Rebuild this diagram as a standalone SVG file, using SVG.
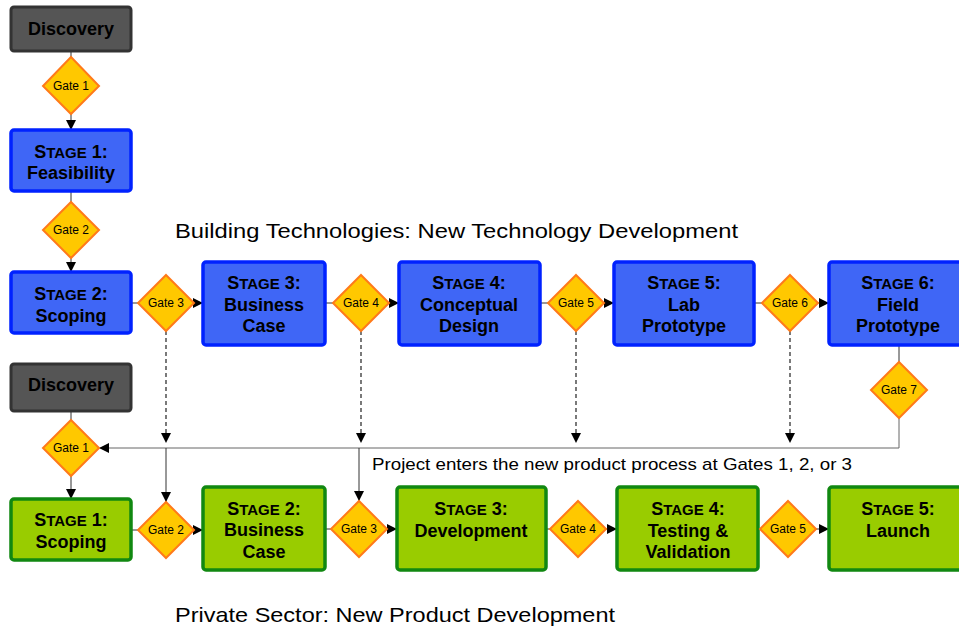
<svg xmlns="http://www.w3.org/2000/svg" width="959" height="632" viewBox="0 0 959 632">
<defs>
<style>
.gray{fill:#555555;stroke:#333333;stroke-width:3}
.blue{fill:#3F66F6;stroke:#0022FF;stroke-width:3.5}
.green{fill:#99CC00;stroke:#118811;stroke-width:3.5}
.gate{fill:#FFC800;stroke:#FF7A1A;stroke-width:2}
.t{font-family:"Liberation Sans",Arial,sans-serif;font-weight:bold;font-size:18px;fill:#000;text-anchor:middle}
.sm{font-size:15px}
.g{font-family:"Liberation Sans",Arial,sans-serif;font-size:12px;fill:#000;text-anchor:middle}
.lbl{font-family:"Liberation Sans",Arial,sans-serif;fill:#000}
.c{fill:none;stroke:#333;stroke-width:1}
.d{fill:none;stroke:#222;stroke-width:1.2;stroke-dasharray:4,3}
</style>
<marker id="ah" viewBox="0 0 10 10" refX="10" refY="5" markerWidth="10" markerHeight="10" markerUnits="userSpaceOnUse" orient="auto">
<path d="M0,0 L10,5 L0,10 z" fill="#000"/>
</marker>
</defs>
<rect width="959" height="632" fill="#fff"/>

<g id="connectors">
<path class="c" d="M71,51 V57"/>
<path class="c" d="M71,114 V130" marker-end="url(#ah)"/>
<path class="c" d="M71,191 V202"/>
<path class="c" d="M71,258 V272" marker-end="url(#ah)"/>
<path class="c" d="M131,303 H138"/>
<path class="c" d="M194,303 H203" marker-end="url(#ah)"/>
<path class="c" d="M325,303 H333"/>
<path class="c" d="M389,303 H399" marker-end="url(#ah)"/>
<path class="c" d="M540,303 H548"/>
<path class="c" d="M604,303 H614" marker-end="url(#ah)"/>
<path class="c" d="M754,303 H762"/>
<path class="c" d="M818,303 H829" marker-end="url(#ah)"/>
<path class="c" d="M899,346 V362"/>
<path class="c" style="stroke:#666" d="M899,418 V448 H99" marker-end="url(#ah)"/>
<path class="d" d="M166,331 V443" marker-end="url(#ah)"/>
<path class="d" d="M361,331 V443" marker-end="url(#ah)"/>
<path class="d" d="M576,331 V443" marker-end="url(#ah)"/>
<path class="d" d="M790,331 V443" marker-end="url(#ah)"/>
<path class="c" d="M166,448 V502" marker-end="url(#ah)"/>
<path class="c" d="M359,448 V501" marker-end="url(#ah)"/>
<path class="c" d="M71,411 V420"/>
<path class="c" d="M71,476 V499" marker-end="url(#ah)"/>
<path class="c" d="M131,530 H138"/>
<path class="c" d="M194,530 H203" marker-end="url(#ah)"/>
<path class="c" d="M325,529 H331"/>
<path class="c" d="M387,529 H397" marker-end="url(#ah)"/>
<path class="c" d="M546,529 H550"/>
<path class="c" d="M606,529 H617" marker-end="url(#ah)"/>
<path class="c" d="M758,529 H760"/>
<path class="c" d="M816,529 H829" marker-end="url(#ah)"/>
</g>

<g id="discovery-top">
<rect class="gray" x="11" y="7" width="120" height="44" rx="3"/>
<text class="t" x="71" y="35">Discovery</text>
</g>
<g id="top-gate1">
<polygon class="gate" points="71,57 99,86 71,114 43,86"/>
<text class="g" x="71" y="90">Gate 1</text>
</g>
<g id="top-stage1">
<rect class="blue" x="11" y="130" width="120" height="61" rx="3"/>
<text class="t" x="71" y="158">S<tspan class="sm">TAGE</tspan> 1:</text>
<text class="t" x="71" y="179">Feasibility</text>
</g>
<g id="top-gate2">
<polygon class="gate" points="71,202 99,230 71,258 43,230"/>
<text class="g" x="71" y="234">Gate 2</text>
</g>
<g id="top-stage2">
<rect class="blue" x="11" y="272" width="120" height="61" rx="3"/>
<text class="t" x="71" y="300">S<tspan class="sm">TAGE</tspan> 2:</text>
<text class="t" x="71" y="322">Scoping</text>
</g>
<g id="top-gate3">
<polygon class="gate" points="166,275 194,303 166,331 138,303"/>
<text class="g" x="166" y="307">Gate 3</text>
</g>
<g id="top-stage3">
<rect class="blue" x="203" y="262" width="122" height="83" rx="3"/>
<text class="t" x="264" y="289">S<tspan class="sm">TAGE</tspan> 3:</text>
<text class="t" x="264" y="311">Business</text>
<text class="t" x="264" y="332">Case</text>
</g>
<g id="top-gate4">
<polygon class="gate" points="361,275 389,303 361,331 333,303"/>
<text class="g" x="361" y="307">Gate 4</text>
</g>
<g id="top-stage4">
<rect class="blue" x="399" y="262" width="141" height="83" rx="3"/>
<text class="t" x="469" y="289">S<tspan class="sm">TAGE</tspan> 4:</text>
<text class="t" x="469" y="311">Conceptual</text>
<text class="t" x="469" y="332">Design</text>
</g>
<g id="top-gate5">
<polygon class="gate" points="576,275 604,303 576,331 548,303"/>
<text class="g" x="576" y="307">Gate 5</text>
</g>
<g id="top-stage5">
<rect class="blue" x="614" y="262" width="140" height="83" rx="3"/>
<text class="t" x="684" y="289">S<tspan class="sm">TAGE</tspan> 5:</text>
<text class="t" x="684" y="311">Lab</text>
<text class="t" x="684" y="332">Prototype</text>
</g>
<g id="top-gate6">
<polygon class="gate" points="790,275 818,303 790,331 762,303"/>
<text class="g" x="790" y="307">Gate 6</text>
</g>
<g id="top-stage6">
<rect class="blue" x="829" y="262" width="140" height="83" rx="3"/>
<text class="t" x="898" y="289">S<tspan class="sm">TAGE</tspan> 6:</text>
<text class="t" x="898" y="311">Field</text>
<text class="t" x="898" y="332">Prototype</text>
</g>
<g id="top-gate7">
<polygon class="gate" points="899,362 927,390 899,418 871,390"/>
<text class="g" x="899" y="394">Gate 7</text>
</g>

<g id="discovery-bottom">
<rect class="gray" x="11" y="364" width="120" height="47" rx="3"/>
<text class="t" x="71" y="391">Discovery</text>
</g>
<g id="bottom-gate1">
<polygon class="gate" points="71,420 99,448 71,476 43,448"/>
<text class="g" x="71" y="452">Gate 1</text>
</g>
<g id="bottom-stage1">
<rect class="green" x="11" y="499" width="120" height="61" rx="3"/>
<text class="t" x="71" y="526">S<tspan class="sm">TAGE</tspan> 1:</text>
<text class="t" x="71" y="548">Scoping</text>
</g>
<g id="bottom-gate2">
<polygon class="gate" points="166,502 194,530 166,558 138,530"/>
<text class="g" x="166" y="534">Gate 2</text>
</g>
<g id="bottom-stage2">
<rect class="green" x="203" y="487" width="122" height="83" rx="3"/>
<text class="t" x="264" y="515">S<tspan class="sm">TAGE</tspan> 2:</text>
<text class="t" x="264" y="536">Business</text>
<text class="t" x="264" y="558">Case</text>
</g>
<g id="bottom-gate3">
<polygon class="gate" points="359,501 387,529 359,557 331,529"/>
<text class="g" x="359" y="533">Gate 3</text>
</g>
<g id="bottom-stage3">
<rect class="green" x="397" y="487" width="149" height="83" rx="3"/>
<text class="t" x="471" y="515">S<tspan class="sm">TAGE</tspan> 3:</text>
<text class="t" x="471" y="537">Development</text>
</g>
<g id="bottom-gate4">
<polygon class="gate" points="578,501 606,529 578,557 550,529"/>
<text class="g" x="578" y="533">Gate 4</text>
</g>
<g id="bottom-stage4">
<rect class="green" x="617" y="487" width="141" height="83" rx="3"/>
<text class="t" x="688" y="515">S<tspan class="sm">TAGE</tspan> 4:</text>
<text class="t" x="688" y="537">Testing &amp;</text>
<text class="t" x="688" y="558">Validation</text>
</g>
<g id="bottom-gate5">
<polygon class="gate" points="788,501 816,529 788,557 760,529"/>
<text class="g" x="788" y="533">Gate 5</text>
</g>
<g id="bottom-stage5">
<rect class="green" x="829" y="487" width="140" height="83" rx="3"/>
<text class="t" x="898" y="515">S<tspan class="sm">TAGE</tspan> 5:</text>
<text class="t" x="898" y="537">Launch</text>
</g>

<text class="lbl" x="175" y="238" font-size="21" textLength="563" lengthAdjust="spacingAndGlyphs">Building Technologies: New Technology Development</text>
<text class="lbl" x="372" y="470" font-size="17" textLength="480" lengthAdjust="spacingAndGlyphs">Project enters the new product process at Gates 1, 2, or 3</text>
<text class="lbl" x="175" y="622" font-size="21" textLength="440" lengthAdjust="spacingAndGlyphs">Private Sector: New Product Development</text>
</svg>
